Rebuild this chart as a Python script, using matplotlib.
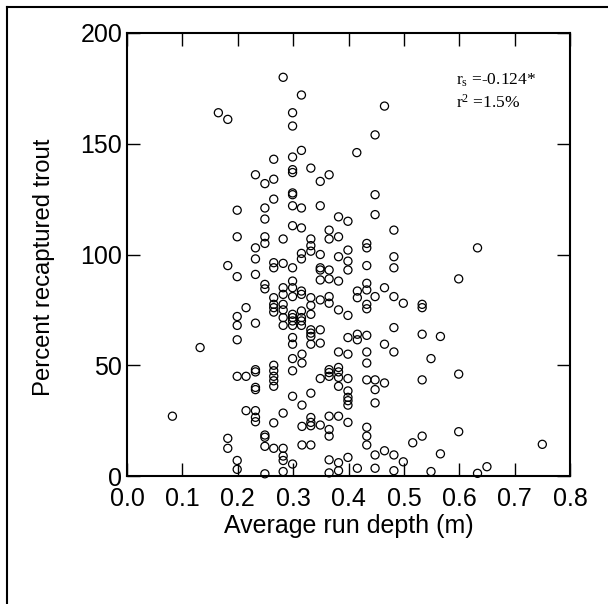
import matplotlib
matplotlib.use("Agg")
import matplotlib.pyplot as plt
from matplotlib.lines import Line2D

plt.rcParams['font.family'] = ['Liberation Sans', 'DejaVu Sans']
plt.rcParams['mathtext.fontset'] = 'custom'
plt.rcParams['mathtext.rm'] = 'Liberation Serif'
plt.rcParams['mathtext.it'] = 'Liberation Serif:italic'

# Average run depth (m)
depth = [
    0.282, 0.315, 0.299, 0.299, 0.465, 0.448, 0.415, 0.315, 0.299, 0.299,
    0.299, 0.332, 0.365, 0.349, 0.265, 0.232, 0.249, 0.265, 0.165, 0.182,
    0.299, 0.299,
    0.265, 0.199, 0.249, 0.249, 0.199, 0.249, 0.249, 0.232, 0.232, 0.182,
    0.199, 0.232, 0.265, 0.265, 0.249, 0.249, 0.265, 0.265, 0.265, 0.265,
    0.215, 0.199, 0.199, 0.232, 0.199,
    0.448, 0.299, 0.315, 0.349, 0.448, 0.382, 0.399, 0.299, 0.315, 0.482,
    0.365, 0.365, 0.382, 0.282, 0.332, 0.332, 0.332, 0.315, 0.315, 0.349,
    0.399, 0.433, 0.433, 0.382, 0.399, 0.482, 0.482, 0.433, 0.399, 0.282,
    0.299, 0.349, 0.349, 0.365, 0.349, 0.365, 0.382, 0.299, 0.282, 0.282,
    0.299, 0.299, 0.315, 0.315, 0.332, 0.349, 0.365, 0.365, 0.282, 0.282,
    0.332, 0.382, 0.399, 0.315, 0.332, 0.282, 0.299, 0.299, 0.299, 0.315,
    0.315, 0.315, 0.282, 0.299, 0.332, 0.332, 0.332, 0.349, 0.299, 0.399,
    0.416, 0.416, 0.433, 0.433, 0.433, 0.416, 0.416, 0.448, 0.465, 0.482,
    0.499, 0.433, 0.433, 0.533, 0.533, 0.482, 0.533,
    0.633, 0.599, 0.566,
    0.132, 0.199, 0.215, 0.232, 0.232, 0.265, 0.265, 0.265, 0.265, 0.265,
    0.232, 0.232, 0.082, 0.215, 0.232, 0.232, 0.232, 0.265, 0.249, 0.249,
    0.182, 0.182, 0.249, 0.265, 0.199, 0.199, 0.249,
    0.349, 0.332, 0.299, 0.465, 0.482, 0.433, 0.433, 0.382, 0.399, 0.316,
    0.316, 0.299, 0.299, 0.365, 0.365, 0.365, 0.382, 0.382, 0.382, 0.382,
    0.349, 0.399, 0.433, 0.448, 0.448, 0.465, 0.533, 0.549, 0.399, 0.399,
    0.399, 0.399, 0.299, 0.332, 0.316, 0.448, 0.282, 0.316, 0.332, 0.332,
    0.332, 0.349, 0.365, 0.382, 0.399, 0.365, 0.365, 0.433, 0.433, 0.433,
    0.316, 0.332, 0.282, 0.282, 0.282, 0.282, 0.299, 0.365, 0.365, 0.382,
    0.382, 0.399, 0.416, 0.448, 0.465, 0.482, 0.448, 0.482, 0.499, 0.516,
    0.533, 0.549,
    0.599, 0.599, 0.566, 0.633, 0.650, 0.750,
]

# Percent recaptured trout
recapture = [
    180, 172, 164, 158, 167, 154, 146, 147, 144, 138.3,
    137, 139, 136, 133, 143, 136, 132, 134, 164, 161,
    127.8, 127,
    125, 120, 121, 116, 108, 108, 105, 103, 98, 95,
    90, 91, 96.3, 94, 86.5, 84.5, 80.5, 77.5, 76, 74,
    76, 72, 68, 69, 61.5,
    127, 122, 121, 122, 118, 117, 115, 113, 112, 111,
    111, 107, 108, 107, 107, 104, 101.5, 100.5, 98, 100,
    102, 105, 103, 99, 97, 99, 94, 95, 93, 96,
    94, 94, 93, 93, 88.5, 89, 88, 88, 85, 82,
    85, 81, 83.5, 82, 80.5, 79.5, 81, 78, 77.5, 75,
    77, 75, 72.5, 74.5, 73, 71.5, 73, 71.5, 70, 71.5,
    70, 68, 68, 68, 66, 64.5, 63, 66, 62.5, 62.5,
    64, 61.5, 63.5, 87, 84, 83.5, 80.5, 81, 85, 81,
    78, 77.5, 75.5, 77.5, 76, 67, 64,
    103, 89, 63,
    58, 45, 45, 48, 47, 50, 47.5, 45, 43, 40.5,
    40, 39, 27, 29.5, 29.5, 26.5, 24.5, 24, 18.5, 17.5,
    17, 12.5, 13.4, 12.5, 7, 3, 1,
    60, 59.5, 59.5, 59.5, 56, 56, 51, 56, 55, 55,
    51, 53, 47.5, 48, 46.7, 45, 49, 47, 44.5, 40.5,
    44, 44, 43.4, 43.4, 39, 42, 43.4, 53, 38.4, 35.5,
    34, 32, 36, 37.4, 32, 33, 28.4, 22.4, 26.4, 24.2,
    22.7, 23, 27, 27, 24.2, 21, 18, 22, 18, 14,
    14, 14, 12.5, 9, 7, 2, 5.4, 7.3, 1.4, 6,
    2.4, 8.4, 3.5, 9.5, 11.4, 9.5, 3.5, 2.4, 6.4, 15,
    18, 2,
    46, 20, 10, 1.2, 4.2, 14.3,
]

x_ticks = [0.0, 0.1, 0.2, 0.3, 0.4, 0.5, 0.6, 0.7, 0.8]
x_tick_labels = ['0.0', '0.1', '0.2', '0.3', '0.4', '0.5', '0.6', '0.7', '0.8']
y_ticks = [0, 50, 100, 150, 200]
y_tick_labels = ['0', '50', '100', '150', '200']

fig = plt.figure(figsize=(6.08, 6.04), dpi=100)
ax = fig.add_axes([127 / 608, 1 - 476 / 604, 443 / 608, 443 / 604])

ax.scatter(depth, recapture, s=34, facecolors='none', edgecolors='black',
           linewidths=0.9, zorder=3, clip_on=False)

ax.set_xlim(0.0, 0.8)
ax.set_ylim(0, 200)
ax.set_xticks(x_ticks)
ax.set_xticklabels(x_tick_labels)
ax.set_yticks(y_ticks)
ax.set_yticklabels(y_tick_labels)

ax.tick_params(axis='both', which='major', direction='in', length=9.5, width=1.0,
               top=True, right=True, labelsize=18, color='black')
ax.tick_params(axis='x', pad=8)
ax.tick_params(axis='y', pad=3.5)
for sp in ax.spines.values():
    sp.set_linewidth(1.5)

ax.set_xlabel('Average run depth (m)', fontsize=18, labelpad=2)
ax.set_ylabel('Percent recaptured trout', fontsize=17.2)
ax.yaxis.set_label_coords(-0.163, 0.47)

ax.text(0.743, 0.883, r'r$_{\mathrm{s}}$ =-0.124*', transform=ax.transAxes,
        fontsize=12.5, family='Liberation Serif', va='baseline', ha='left')
ax.text(0.743, 0.831, r'r$^{\mathrm{2}}$ =1.5%', transform=ax.transAxes,
        fontsize=12.5, family='Liberation Serif', va='baseline', ha='left')

# outer frame (left and top edges)
fig.add_artist(Line2D([7 / 608, 7 / 608], [0, 1 - 7 / 604], transform=fig.transFigure,
                      color='black', linewidth=1.5))
fig.add_artist(Line2D([7 / 608, 1], [1 - 7 / 604, 1 - 7 / 604], transform=fig.transFigure,
                      color='black', linewidth=1.5))

fig.savefig('out.png', dpi=100)
